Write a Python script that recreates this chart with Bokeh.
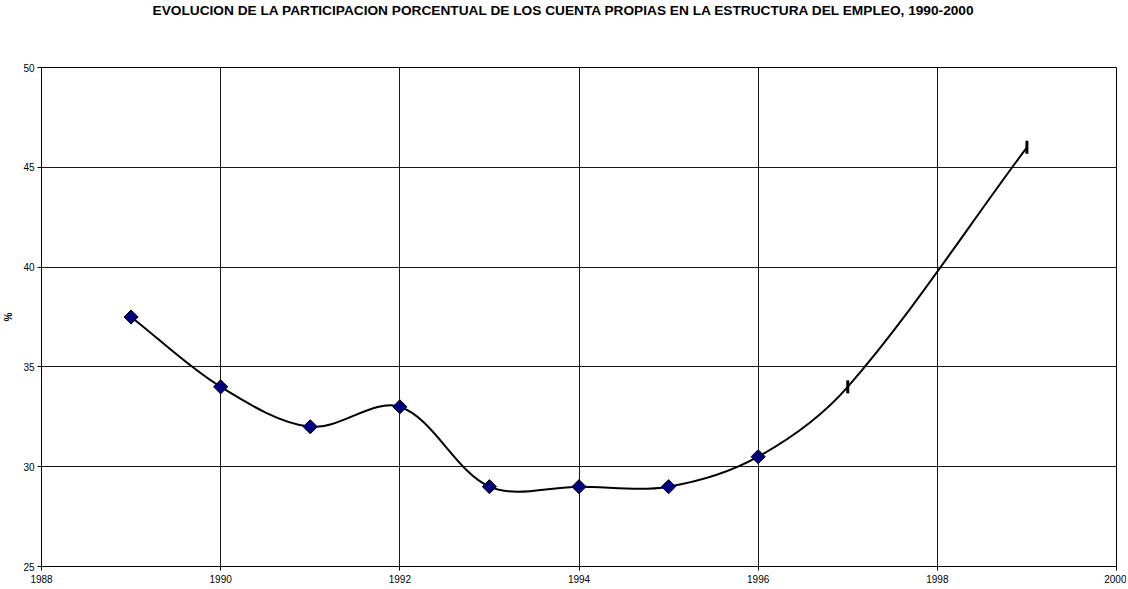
import numpy as np
from bokeh.plotting import figure
from bokeh.models import FixedTicker, Title
from bokeh.embed import file_html
from bokeh.resources import INLINE

years = [1989, 1990, 1991, 1992, 1993, 1994, 1995, 1996, 1997, 1999]
values = [37.5, 34.0, 32.0, 33.0, 29.0, 29.0, 29.0, 30.5, 34.0, 46.0]
diamond_years = years[:8]
diamond_values = values[:8]
dash_years = years[8:]
dash_values = values[8:]
x_ticks = [1988, 1990, 1992, 1994, 1996, 1998, 2000]
y_ticks = [25, 30, 35, 40, 45, 50]
TITLE = "EVOLUCION DE LA PARTICIPACION PORCENTUAL DE LOS CUENTA PROPIAS EN LA ESTRUCTURA DEL EMPLEO, 1990-2000"

FONT = "Liberation Sans"
FW, FH = 1075, 499
XR, YR = (1988, 2000), (25, 50)

p = figure(frame_width=FW, frame_height=FH, x_range=XR, y_range=YR,
           output_backend="svg", toolbar_location=None, title=TITLE,
           min_border_left=0, min_border_right=10, min_border_top=0, min_border_bottom=0)
p.title.align = "left"
p.title.text_font = FONT
p.title.text_font_size = "13.7px"
p.title.text_font_style = "bold"
p.title.text_color = "black"
p.title.standoff = 0
p.title.offset = 111

# spacer between the title and the frame
spacer = Title(text=" ", text_font_size="10px", standoff=37)
p.add_layout(spacer, "above")

p.outline_line_color = "black"
p.outline_line_width = 1
p.outline_line_alpha = 1

for ax in (p.xaxis[0], p.yaxis[0]):
    ax.major_label_text_font = FONT
    ax.major_label_text_font_size = "10px"
    ax.major_label_text_color = "black"
    ax.axis_line_color = "black"
    ax.major_tick_line_color = "black"
    ax.major_tick_in = 0
    ax.major_tick_out = 4
    ax.minor_tick_line_color = None

p.xaxis.ticker = FixedTicker(ticks=x_ticks)
p.yaxis.ticker = FixedTicker(ticks=y_ticks)
p.xaxis.major_label_standoff = 4
p.yaxis.major_label_standoff = 3
p.yaxis.axis_label = "%"
p.yaxis.axis_label_text_font = FONT
p.yaxis.axis_label_text_font_size = "10px"
p.yaxis.axis_label_text_font_style = "bold"
p.yaxis.axis_label_text_color = "black"
p.yaxis.axis_label_standoff = 6

p.xgrid.grid_line_color = "black"
p.ygrid.grid_line_color = "black"
p.xgrid.grid_line_alpha = 0.9
p.ygrid.grid_line_alpha = 0.9

# smoothed line: bezier segments with tangents computed in screen proportions
sx = FW / (XR[1] - XR[0])
sy = FH / (YR[1] - YR[0])
px = np.array(years, dtype=float) * sx
py = np.array(values, dtype=float) * sy
n = len(px)
ext_x = np.concatenate([[px[0]], px, [px[-1]]])
ext_y = np.concatenate([[py[0]], py, [py[-1]]])
c0x, c0y, c1x, c1y = [], [], [], []
for i in range(n - 1):
    a, b, c, d = i, i + 1, i + 2, i + 3  # indices into ext arrays (P0,P1,P2,P3)
    d01 = np.hypot(ext_x[b] - ext_x[a], ext_y[b] - ext_y[a])
    d12 = np.hypot(ext_x[c] - ext_x[b], ext_y[c] - ext_y[b])
    d23 = np.hypot(ext_x[d] - ext_x[c], ext_y[d] - ext_y[c])
    tx, ty = ext_x[c] - ext_x[a], ext_y[c] - ext_y[a]
    f1 = d12 / (d01 + d12) / 3.0
    c0x.append(ext_x[b] + tx * f1)
    c0y.append(ext_y[b] + ty * f1)
    ux, uy = ext_x[d] - ext_x[b], ext_y[d] - ext_y[b]
    f2 = d12 / (d12 + d23) / 3.0
    c1x.append(ext_x[c] - ux * f2)
    c1y.append(ext_y[c] - uy * f2)
c0x = np.array(c0x) / sx; c0y = np.array(c0y) / sy
c1x = np.array(c1x) / sx; c1y = np.array(c1y) / sy

p.bezier(x0=years[:-1], y0=values[:-1], x1=years[1:], y1=values[1:],
         cx0=c0x, cy0=c0y, cx1=c1x, cy1=c1y, line_color="black", line_width=2)

p.scatter(diamond_years, diamond_values, marker="square", size=10, angle=np.pi / 4,
          fill_color="#000080", line_color="black", line_width=1)
p.scatter(dash_years, dash_values, marker="dash", size=13, angle=np.pi / 2,
          line_color="black", line_width=3)

open("out.html", "w").write(file_html(p, INLINE))
